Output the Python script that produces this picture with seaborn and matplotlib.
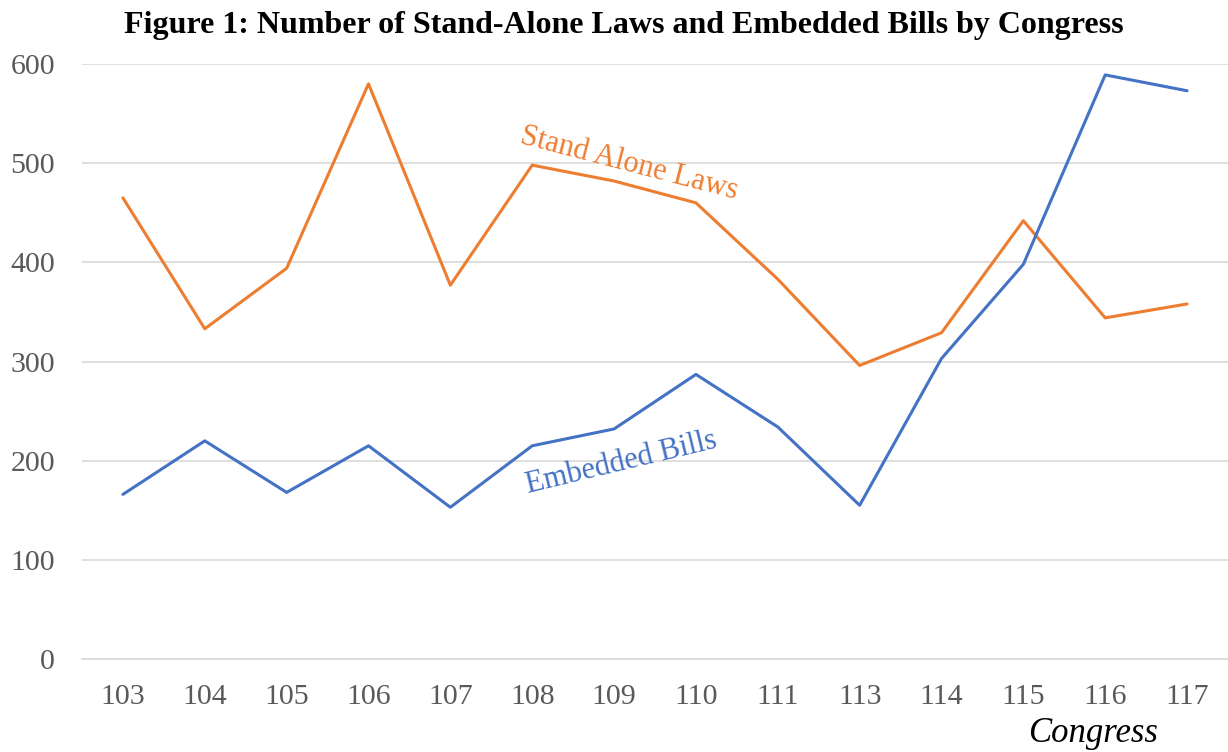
import matplotlib
matplotlib.use("Agg")
import matplotlib.pyplot as plt
import seaborn as sns
import pandas as pd
import numpy as np

congress = ["103", "104", "105", "106", "107", "108", "109", "110", "111", "113", "114", "115", "116", "117"]
stand_alone = [465, 333, 394, 580, 377, 498, 482, 460, 383, 296, 329, 442, 344, 358]
embedded = [166, 220, 168, 215, 153, 215, 232, 287, 234, 155, 303, 398, 589, 573]

sns.set_theme(style="white")
plt.rcParams['font.family'] = ['Liberation Serif', 'DejaVu Serif']

pos = np.arange(len(congress))
df = pd.DataFrame({
    "pos": np.concatenate([pos, pos]),
    "value": stand_alone + embedded,
    "series": ["Stand Alone Laws"] * len(congress) + ["Embedded Bills"] * len(congress),
})

fig = plt.figure(figsize=(12.28, 7.52), dpi=100)
ax = fig.add_axes([82 / 1228, 1 - 659 / 752, (1228 - 82) / 1228, (659 - 64) / 752])

sns.lineplot(data=df, x="pos", y="value", hue="series",
             palette={"Stand Alone Laws": "#ED7D31", "Embedded Bills": "#4472C4"},
             linewidth=2.2, ax=ax, legend=False, sort=False)

ax.set_ylim(0, 600)
ax.set_xlim(-0.5, 13.45)
ax.set_yticks(range(0, 601, 100))
ax.set_xticks(pos)
ax.set_xticklabels(congress)
ax.set_xticks(np.arange(-0.5, 14, 1), minor=True)
ax.tick_params(axis="x", which="major", length=0, pad=18, labelsize=21.5, labelcolor="#595959")
ax.tick_params(axis="x", which="minor", length=8, color="#D9D9D9", width=1.2, direction="out")
ax.tick_params(axis="y", length=0, pad=19.5, labelsize=21.5, labelcolor="#595959")
ax.grid(axis="y", color="#D9D9D9", linewidth=1.2)
ax.grid(axis="x", visible=False)
for s in ["top", "right", "left"]:
    ax.spines[s].set_visible(False)
ax.spines["bottom"].set_color("#D9D9D9")
ax.spines["bottom"].set_linewidth(1.2)
ax.set_xlabel("")
ax.set_ylabel("")

fig.text(624 / 1228, 1 - 25 / 752, "Figure 1: Number of Stand-Alone Laws and Embedded Bills by Congress",
         ha="center", va="center", fontsize=23, fontweight="bold", color="black")
fig.text(1093 / 1228, 1 - 734 / 752, "Congress", ha="center", va="center",
         fontsize=25, style="italic", color="black")

ax.text(6.19, 499, "Stand Alone Laws", rotation=-14.5, ha="center", va="center",
        fontsize=22, color="#ED7D31", rotation_mode="anchor")
ax.text(6.09, 198, "Embedded Bills", rotation=13.5, ha="center", va="center",
        fontsize=22, color="#4472C4", rotation_mode="anchor")

fig.savefig("out.png", dpi=100)
